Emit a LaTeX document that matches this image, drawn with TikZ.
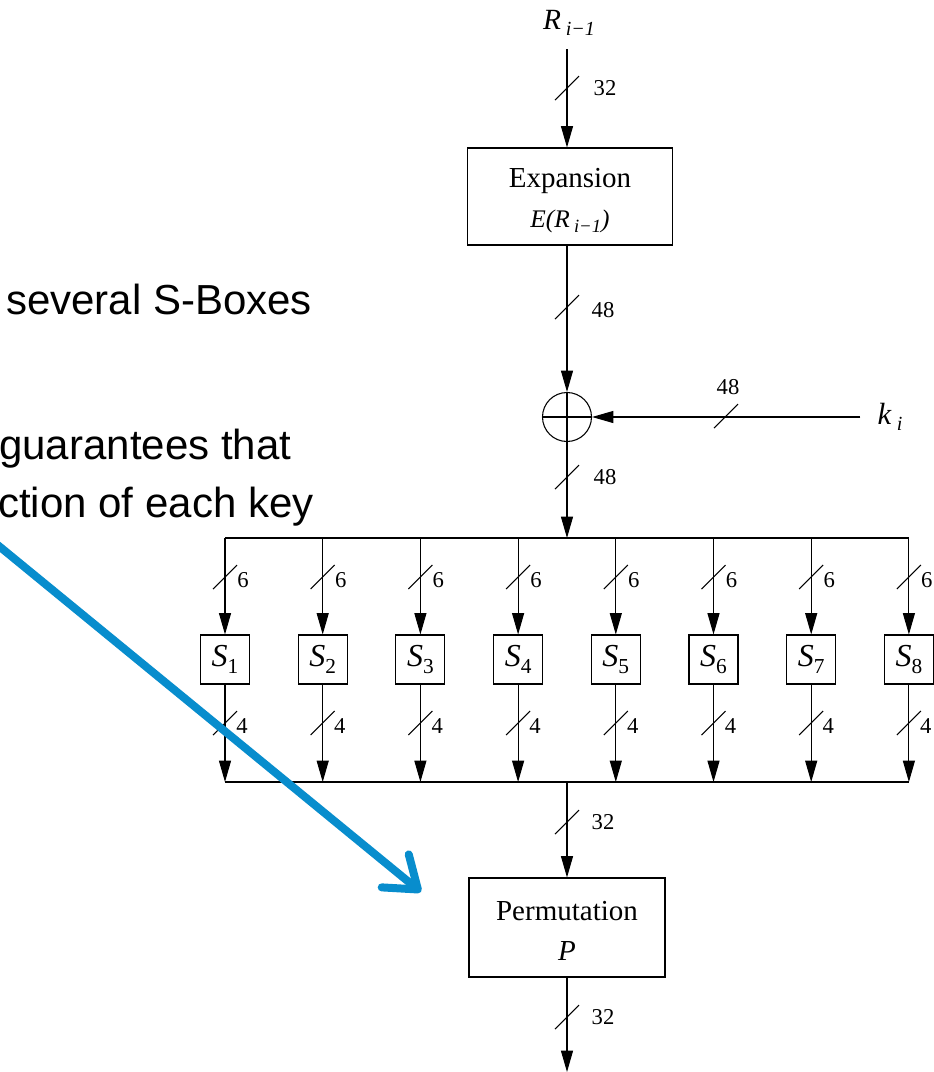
\documentclass[tikz,border=0pt]{standalone}
\usepackage{fontspec}
\setmainfont{Liberation Serif}
\newfontfamily\slidefont{Liberation Sans}
\usetikzlibrary{arrows.meta,positioning}
\definecolor{callblue}{RGB}{8,141,205}
\newcommand{\lowtxt}[2][12]{\raisebox{-0.45ex}{\fontsize{#1}{#1}\selectfont #2}}

\begin{document}
\begin{tikzpicture}[x=0.75pt,y=-0.75pt,
  wire/.style={line width=0.8pt},
  flow/.style={wire,-{Triangle[length=16pt,width=9pt]}},
  block/.style={draw,line width=0.8pt,align=center,inner sep=0pt,font=\fontsize{21.75}{30}\selectfont},
  sbox/.style={draw,line width=0.8pt,minimum size=36.75pt,inner sep=0pt,font=\fontsize{24}{24}\selectfont},
  xorop/.style={draw,circle,line width=0.8pt,minimum size=36.75pt,inner sep=0pt,
    path picture={\draw[wire] (path picture bounding box.north) -- (path picture bounding box.south)
      (path picture bounding box.west) -- (path picture bounding box.east);}},
  bitlabel/.style={font=\fontsize{17}{17}\selectfont,inner sep=0pt},
  bitmark/.style={wire},
  slide/.style={font=\slidefont\fontsize{31.5}{36}\selectfont,anchor=base west,inner sep=0pt}]
\useasboundingbox (0,0) rectangle (933,1072);

\node[slide] (line1) at (6,314) {several S-Boxes};
\node[slide] (line2) at (-1,459) {guarantees that};
\node[slide] (line3) at (-2,517) {ction of each key};

\node[inner sep=0pt] (rin) at (569,23) {\fontsize{22}{22}\selectfont\textit{R}\,\lowtxt[15]{\textit{i−1}}};
\node[block,minimum width=153.75pt,minimum height=72.75pt] (exp) at (570,196.5)
  {\rule{0pt}{20pt}Expansion\\{\fontsize{19}{20}\selectfont\textit{E(R}\,\lowtxt[14]{\textit{i−1}}\textit{)}}};
\node[xorop] (xor) at (567,417) {};
\node[inner sep=0pt] (ki) at (890,417) {\fontsize{23}{23}\selectfont\textit{k}\,\lowtxt[15]{\textit{i}}};
\node[block,minimum width=147pt,minimum height=74.25pt] (perm) at (567,927.5) {\rule{0pt}{20pt}Permutation\\\textit{P}};

\coordinate (busin) at (567,538);
\coordinate (busout) at (567,782);
\coordinate (fout) at (567,1072);

\draw[flow,shorten <=10pt] (rin.south -| xor) -- (exp.north -| xor);
\draw[flow] (exp.south -| xor) -- (xor);
\draw[flow,shorten <=12.75pt] (ki) -- (xor);
\draw[flow] (xor) -- (busin);
\draw[flow] (busout) -- (perm);
\draw[flow] (perm) -- (fout);

\draw[bitmark] (567,88) ++(-12,12) -- ++(24,-24);
\node[bitlabel] (w32a) at (605,88) {32};
\draw[bitmark] (567,307) ++(-12,12) -- ++(24,-24);
\node[bitlabel] (w48a) at (603,310) {48};
\draw[bitmark] (726,416) ++(-12,12) -- ++(24,-24);
\node[bitlabel] (w48k) at (728,387) {48};
\draw[bitmark] (567,477) ++(-12,12) -- ++(24,-24);
\node[bitlabel] (w48b) at (605,477) {48};
\draw[bitmark] (567,822) ++(-12,12) -- ++(24,-24);
\node[bitlabel] (w32b) at (603,822) {32};
\draw[bitmark] (567,1017) ++(-12,12) -- ++(24,-24);
\node[bitlabel] (w32c) at (603,1017) {32};

\foreach \k in {1,...,8} {
  \pgfmathsetmacro{\bx}{225+(\k-1)*97.7}
  \coordinate (t\k) at (\bx,538);
  \coordinate (b\k) at (\bx,782);
  \node[sbox] (s\k) at (\bx,659.5) {\textit{S}\lowtxt[16]{\k}};
  \draw[flow] (t\k) -- (s\k);
  \draw[flow] (s\k) -- (b\k);
  \draw[bitmark] (\bx,577) ++(-12,12) -- ++(24,-24);
  \node[bitlabel] (w6\k) at (\bx+18,580) {6};
  \draw[bitmark] (\bx,723) ++(-12,12) -- ++(24,-24);
  \node[bitlabel] (w4\k) at (\bx+17,726) {4};
}
\draw[wire] (t1) -- (t8);
\draw[wire] (b1) -- (b8);

\coordinate (calltail) at (-6,542);
\coordinate (callhead) at (421,892);
\draw[callblue,line width=6pt,line cap=round,-{Straight Barb[length=22pt,width=32pt,round]}] (calltail) -- (callhead);
\end{tikzpicture}
\end{document}
